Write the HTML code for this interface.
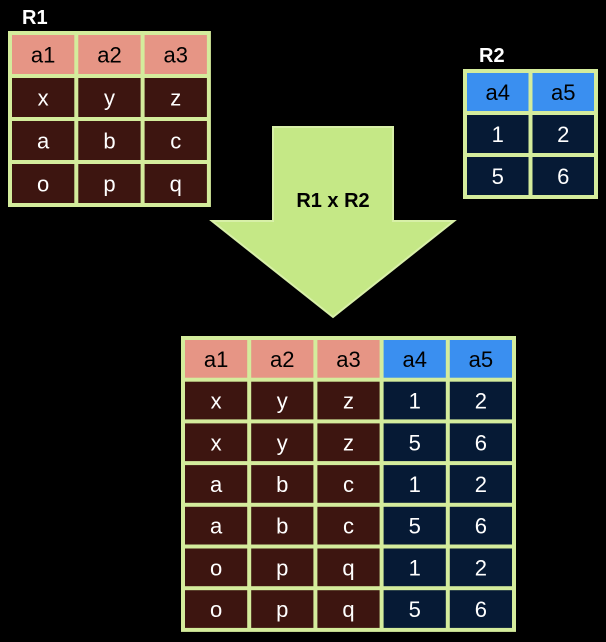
<!DOCTYPE html>
<html><head><meta charset="utf-8"><style>
html,body{margin:0;padding:0;background:#000;}
svg{display:block;font-family:"Liberation Sans",Arial,sans-serif;}
</style></head><body>
<svg id="s" width="606" height="642" viewBox="0 0 606 642">
<text x="22" y="24" font-size="20" font-weight="bold" fill="#fff">R1</text>
<text x="479" y="62" font-size="20" font-weight="bold" fill="#fff">R2</text>
<polygon points="273,127 393,127 393,221 454,221 333,317 212,221 273,221" fill="#c5e886" stroke="#d8f0a8" stroke-width="2"/>
<text x="333" y="207" font-size="20" font-weight="bold" fill="#000" text-anchor="middle">R1 x R2</text>
</svg>
<script>
const r1Headers=['a1','a2','a3'];
const r1Rows=[['x','y','z'],['a','b','c'],['o','p','q']];
const r2Headers=['a4','a5'];
const r2Rows=[['1','2'],['5','6']];
const prodHeaders=['a1','a2','a3','a4','a5'];
const prodRows=[['x','y','z','1','2'],['x','y','z','5','6'],['a','b','c','1','2'],['a','b','c','5','6'],['o','p','q','1','2'],['o','p','q','5','6']];
const NS='http://www.w3.org/2000/svg';
const svg=document.getElementById('s');
function mk(tag,attrs){const e=document.createElementNS(NS,tag);for(const k in attrs)e.setAttribute(k,attrs[k]);return e;}
function table(name,x,y,cw,rh,headers,rows,blueFrom){
  const g=mk('g',{});
  
  
  const W=cw*headers.length,H=rh*(rows.length+1);
  g.appendChild(mk('rect',{x:x,y:y,width:W+4,height:H+4,fill:'#d4ec9c'}));
  const all=[headers].concat(rows);
  all.forEach((row,ri)=>{row.forEach((v,ci)=>{
    const blue=ci>=blueFrom;
    const fill=ri===0?(blue?'#3a8ff0':'#e69585'):(blue?'#061a35':'#3d1510');
    const cx=x+ci*cw+4, cy=y+ri*rh+4;
    const r=mk('rect',{x:cx,y:cy,width:cw-4,height:rh-4,fill:fill});
    
    
    g.appendChild(r);
    const t=mk('text',{x:cx+(cw-4)/2,y:cy+(rh-4)/2+8,'font-size':22,'text-anchor':'middle',fill:ri===0?'#000':'#fff'});
    t.textContent=v;
    
    
    g.appendChild(t);
  });});
  svg.appendChild(g);
}
table('r1-table',8,31,66.3,43,r1Headers,r1Rows,99);
table('r2-table',463,69,65.5,42,r2Headers,r2Rows,0);
table('product-table',181,336,66.2,41.7,prodHeaders,prodRows,3);
</script>
</body></html>
